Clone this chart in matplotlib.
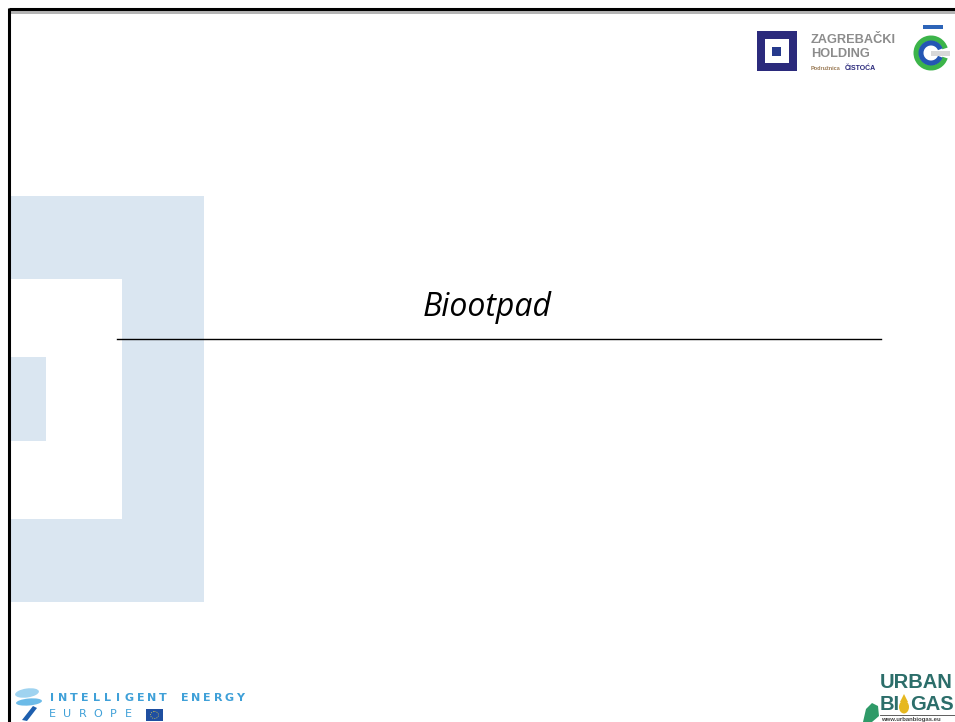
import matplotlib
matplotlib.use("Agg")
from matplotlib import pyplot as plt
from matplotlib.patches import Rectangle, Wedge, Ellipse, Polygon

# slide content
title = "Biootpad"
company_lines = ["ZAGREBAČKI", "HOLDING"]
branch_label = "Podružnica"
branch_name = "ČISTOĆA"
iee_line1 = "INTELLIGENT ENERGY"
iee_line2 = "EUROPE"
ub_line1 = "URBAN"
ub_web = "www.urbanbiogas.eu"

# decorative blocks on the left: (x, y, w, h, colour) in slide pixels
blocks = [
    (10, 196, 194, 406, "#dae6f1"),
    (10, 279, 112, 240, "white"),
    (10, 357, 36, 84, "#dae6f1"),
]

NAVY = "#2b2a7c"
GREEN = "#3cb44a"
BLUE = "#2456b4"
TEAL = "#2c6e6a"
IEE_BLUE = "#3fa0d8"

fig = plt.figure(figsize=(9.55, 7.22), dpi=100)
ax = fig.add_axes([0, 0, 1, 1])
ax.set_xlim(0, 955)
ax.set_ylim(722, 0)
ax.axis("off")

# frame
ax.add_patch(Rectangle((10, 10), 945, 4, color="#b4b4b4", lw=0))
ax.plot([9, 955], [9, 9], color="black", lw=2.2, solid_capstyle="butt")
ax.plot([9, 9], [8, 722], color="black", lw=2.2, solid_capstyle="butt")

for x, y, w, h, c in blocks:
    ax.add_patch(Rectangle((x, y), w, h, color=c, lw=0))

# title and rule
ax.text(487, 307, title, fontsize=23, style="italic", family=["Open Sans", "DejaVu Sans"],
        ha="center", va="center", color="black")
ax.plot([117, 881], [339, 339], color="black", lw=1)

# Zagrebacki holding logo
ax.add_patch(Rectangle((757, 31), 40, 40, color=NAVY, lw=0))
ax.add_patch(Rectangle((765, 39), 24, 24, color="white", lw=0))
ax.add_patch(Rectangle((772, 47), 9, 9, color="#263a8c", lw=0))
ax.text(811, 40, company_lines[0], fontsize=9.2, weight="bold", color="#8c8c8c",
        family="Liberation Sans", va="center", ha="left")
ax.text(811, 54, company_lines[1], fontsize=9.2, weight="bold", color="#8c8c8c",
        family="Liberation Sans", va="center", ha="left")
ax.text(811, 69, branch_label, fontsize=4.0, weight="bold", color="#9a7a55",
        family="Liberation Sans", va="center", ha="left")
ax.text(845, 69, branch_name, fontsize=5, weight="bold", color=NAVY,
        family="Liberation Sans", va="center", ha="left")

# Cistoca mark
cx, cy = 931, 53
ax.add_patch(Rectangle((923, 25), 20, 3.5, color="#2d64b8", lw=0))
ax.add_patch(Wedge((cx, cy), 17.5, 18, 342, width=5.5, color=GREEN, lw=0))
ax.add_patch(Wedge((cx, cy), 12.5, 22, 338, width=5, color=BLUE, lw=0))
ax.add_patch(Rectangle((cx, cy - 2.5), 19, 5, color="#d8d8d8", lw=0))

# Intelligent Energy Europe logo
ax.add_patch(Ellipse((27, 693), 24, 9, angle=-8, color="#9fd3f0", lw=0))
ax.add_patch(Ellipse((29, 702), 26, 7, angle=-5, color="#6cbbe8", lw=0))
ax.add_patch(Polygon([[33, 706], [37, 708], [27, 721], [22, 720]], color="#1e5fae", lw=0))
for i, ch in enumerate(iee_line1):
    ax.text(52 + i * 11.06, 698, ch, fontsize=8, weight="bold", color=IEE_BLUE,
            family="DejaVu Sans", ha="center", va="center")
for i, ch in enumerate(iee_line2):
    ax.text(52 + i * 15.3, 714, ch, fontsize=8, color=IEE_BLUE,
            family="DejaVu Sans", ha="center", va="center")
ax.add_patch(Rectangle((146, 709), 17, 12, color="#1f4fa0", lw=0))
ax.add_patch(Ellipse((154.5, 715), 8, 7, fill=False, ec="#e8d34a", lw=0.6, ls=":"))

# Urban Biogas logo
ax.text(880, 683, ub_line1, fontsize=14.5, weight="bold", color=TEAL,
        family="Liberation Sans", ha="left", va="center")
ax.text(880, 705, "BI", fontsize=14.5, weight="bold", color=TEAL,
        family="Liberation Sans", ha="left", va="center")
ax.add_patch(Ellipse((904, 707), 10, 13, color="#e6b820", lw=0))
ax.add_patch(Polygon([[900, 702], [904, 694], [908, 702]], color="#e6b820", lw=0))
ax.text(910, 705, "GAS", fontsize=14.5, weight="bold", color=TEAL,
        family="Liberation Sans", ha="left", va="center")
ax.add_patch(Polygon([[863, 722], [866, 709], [872, 703], [878, 706], [879, 716], [872, 722]],
                     color="#2f9a68", lw=0))
ax.plot([880, 955], [715, 715], color="#444444", lw=0.6)
ax.text(881, 719, ub_web, fontsize=4.3, weight="bold", color="#444444",
        family="Liberation Sans", ha="left", va="center")

fig.savefig("out.png", dpi=100)
